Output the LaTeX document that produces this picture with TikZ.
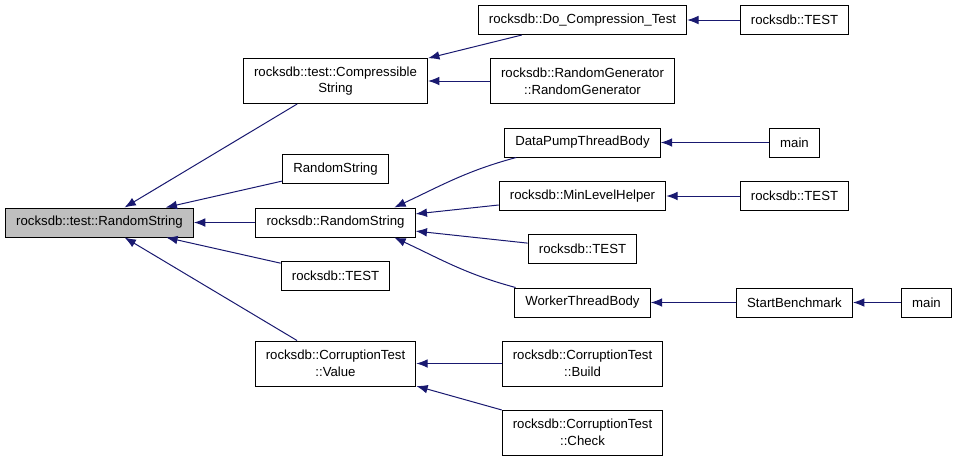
\documentclass[tikz,border=0pt]{standalone}
\usepackage{fontspec}
\setmainfont{Liberation Sans}
\usetikzlibrary{arrows.meta}
\definecolor{edgeblue}{HTML}{191970}
\tikzstyle{fnbox}=[draw=black,fill=white,line width=0.75pt,inner xsep=8pt,inner ysep=2pt,minimum height=21.75pt,align=center,font=\fontsize{9.9}{12.5}\selectfont]
\tikzstyle{fntwo}=[fnbox,minimum height=33.75pt]
\tikzstyle{rootbox}=[fnbox,fill=gray!50]
\tikzstyle{edge}=[draw=edgeblue,line width=0.75pt,-{Latex[length=8.5pt,width=6.5pt]}]

\begin{document}
\begin{tikzpicture}[x=0.75pt,y=-0.75pt]

      % one unit is one pixel of the graph, y runs downwards
      \useasboundingbox (0,0) rectangle (957,461);
      \def\cola{99.5}  % column of the function itself
      \def\colb{335.5} % direct callers
      \def\colc{582.5} % callers of the callers
      \def\cold{794.5}
      \def\cole{926.5}

      % Draw functions as boxes
      % first col
      \node[rootbox] at (\cola,222.5) (rs) {rocksdb::test::RandomString};
      % second col
      \node[fntwo] at (\colb,81) (cs) {rocksdb::test::Compressible\\String};
      \node[fnbox] at (\colb,169) (rsa) {RandomString};
      \node[fnbox] at (\colb,222.5) (rsb) {rocksdb::RandomString};
      \node[fnbox] at (\colb,275.5) (tst1) {rocksdb::TEST};
      \node[fntwo] at (\colb,363.5) (val) {rocksdb::CorruptionTest\\::Value};
      % third col
      \node[fnbox] at (\colc,20) (dct) {rocksdb::Do\_Compression\_Test};
      \node[fntwo] at (\colc,81) (rg) {rocksdb::RandomGenerator\\::RandomGenerator};
      \node[fnbox] at (\colc,142.5) (dp) {DataPumpThreadBody};
      \node[fnbox] at (\colc,196) (mlh) {rocksdb::MinLevelHelper};
      \node[fnbox] at (\colc,249) (tst2) {rocksdb::TEST};
      \node[fnbox] at (\colc,302.5) (wtb) {WorkerThreadBody};
      \node[fntwo] at (\colc,363.5) (bld) {rocksdb::CorruptionTest\\::Build};
      \node[fntwo] at (\colc,432.5) (chk) {rocksdb::CorruptionTest\\::Check};
      % fourth and fifth col
      \node[fnbox] at (\cold,20) (tst3) {rocksdb::TEST};
      \node[fnbox] at (\cold,142.5) (mn1) {main};
      \node[fnbox] at (\cold,196) (tst4) {rocksdb::TEST};
      \node[fnbox] at (\cold,302.5) (sb) {StartBenchmark};
      \node[fnbox] at (\cole,302.5) (mn2) {main};

      % Draw all calls, the tip sits at the called function
      \draw[edge] (cs) -- (rs);
      \draw[edge] (rsa) -- (rs);
      \draw[edge] (rsb) -- (rs);
      \draw[edge] (tst1) -- (rs);
      \draw[edge] (val) -- (rs);
      % calls into the second col
      \draw[edge] (dct) -- (cs);
      \draw[edge] (rg) -- (cs);
      \draw[edge] ([xshift=9pt]dp.south west) to[out=195,in=25] ([xshift=-16pt]rsb.north east);
      \draw[edge] (mlh) -- (rsb);
      \draw[edge] (tst2) -- (rsb);
      \draw[edge] ([xshift=1pt]wtb.north west) to[out=165,in=-25] ([xshift=-16pt]rsb.south east);
      \draw[edge] (bld) -- (val);
      \draw[edge] (chk) -- (val);
      % calls into the third col and beyond
      \draw[edge] (tst3) -- (dct);
      \draw[edge] (mn1) -- (dp);
      \draw[edge] (tst4) -- (mlh);
      \draw[edge] (sb) -- (wtb);
      \draw[edge] (mn2) -- (sb);

   \end{tikzpicture}
\end{document}
